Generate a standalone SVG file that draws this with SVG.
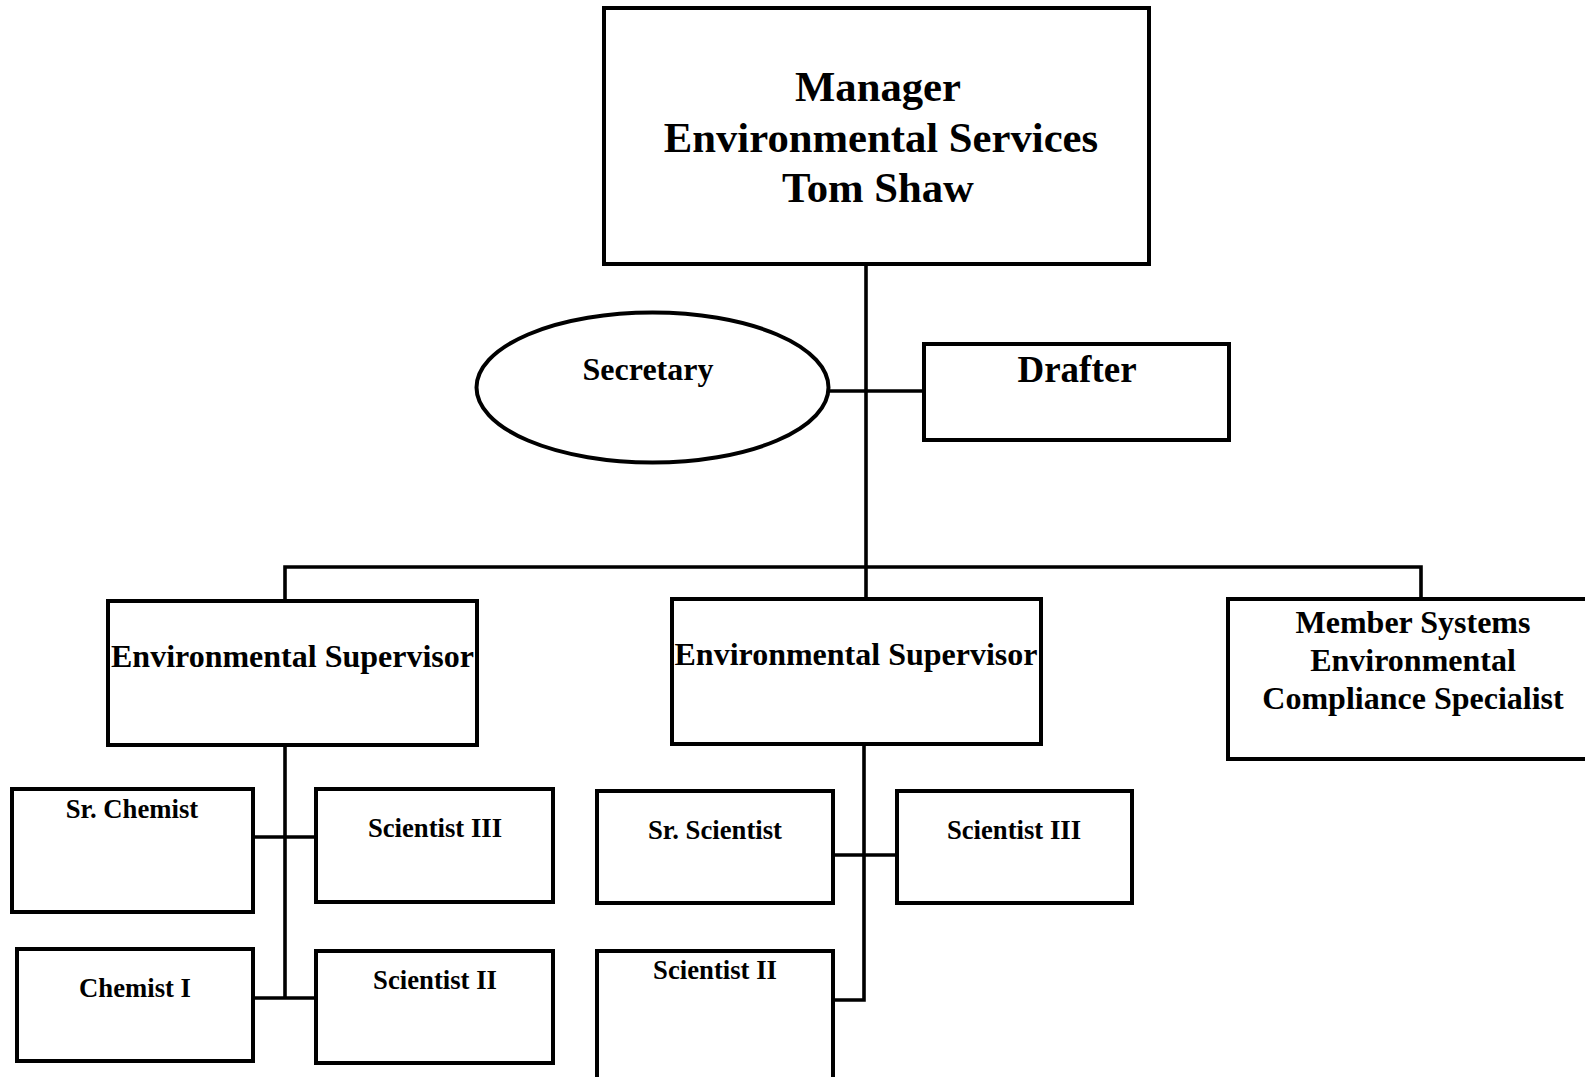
<svg xmlns="http://www.w3.org/2000/svg" width="1585" height="1077" viewBox="0 0 1585 1077">
<style>
.box{fill:#fff;stroke:#000;stroke-width:4}
.ln{stroke:#000;stroke-width:3.6;fill:none}
text{font-family:"Liberation Serif","Times New Roman",serif;font-weight:bold;fill:#000;text-anchor:middle}
.t1{font-size:42.7px}
.t2{font-size:37px}
.t3{font-size:32px}
.t4{font-size:26.7px}
</style>
<rect width="1585" height="1077" fill="#fff"/>
<g id="connectors">
<line class="ln" x1="866" y1="264" x2="866" y2="567"/>
<line class="ln" x1="829" y1="391" x2="924" y2="391"/>
<polyline class="ln" points="285,601 285,567 1421,567 1421,599"/>
<line class="ln" x1="866" y1="567" x2="866" y2="599"/>
<line class="ln" x1="285" y1="745" x2="285" y2="998"/>
<line class="ln" x1="253" y1="837" x2="316" y2="837"/>
<line class="ln" x1="253" y1="998" x2="316" y2="998"/>
<polyline class="ln" points="864,744 864,1000 833,1000"/>
<line class="ln" x1="833" y1="855" x2="897" y2="855"/>
</g>
<g id="manager">
<rect class="box" x="604" y="8" width="545" height="256"/>
<text class="t1" x="878" y="101">Manager</text>
<text class="t1" x="881" y="152">Environmental Services</text>
<text class="t1" x="878" y="202">Tom Shaw</text>
</g>
<g id="secretary">
<ellipse class="box" cx="652.5" cy="387.5" rx="176" ry="75"/>
<text class="t3" x="648" y="380">Secretary</text>
</g>
<g id="drafter">
<rect class="box" x="924" y="344" width="305" height="96"/>
<text class="t2" x="1077" y="382">Drafter</text>
</g>
<g id="supervisor1">
<rect class="box" x="108" y="601" width="369" height="144"/>
<text class="t3" x="292.5" y="667">Environmental Supervisor</text>
</g>
<g id="supervisor2">
<rect class="box" x="672" y="599" width="369" height="145"/>
<text class="t3" x="856" y="665">Environmental Supervisor</text>
</g>
<g id="compliance">
<rect class="box" x="1228" y="599" width="362" height="160"/>
<text class="t3" x="1413" y="633">Member Systems</text>
<text class="t3" x="1413" y="671">Environmental</text>
<text class="t3" x="1413" y="709">Compliance Specialist</text>
</g>
<g id="sr-chemist">
<rect class="box" x="12" y="789" width="241" height="123"/>
<text class="t4" x="132" y="818">Sr. Chemist</text>
</g>
<g id="scientist3-left">
<rect class="box" x="316" y="789" width="237" height="113"/>
<text class="t4" x="435" y="837">Scientist III</text>
</g>
<g id="chemist1">
<rect class="box" x="17" y="949" width="236" height="112"/>
<text class="t4" x="135" y="997">Chemist I</text>
</g>
<g id="scientist2-left">
<rect class="box" x="316" y="951" width="237" height="112"/>
<text class="t4" x="435" y="989">Scientist II</text>
</g>
<g id="sr-scientist">
<rect class="box" x="597" y="791" width="236" height="112"/>
<text class="t4" x="715" y="839">Sr. Scientist</text>
</g>
<g id="scientist3-mid">
<rect class="box" x="897" y="791" width="235" height="112"/>
<text class="t4" x="1014" y="839">Scientist III</text>
</g>
<g id="scientist2-mid">
<rect class="box" x="597" y="951" width="236" height="140"/>
<text class="t4" x="715" y="979">Scientist II</text>
</g>
</svg>
